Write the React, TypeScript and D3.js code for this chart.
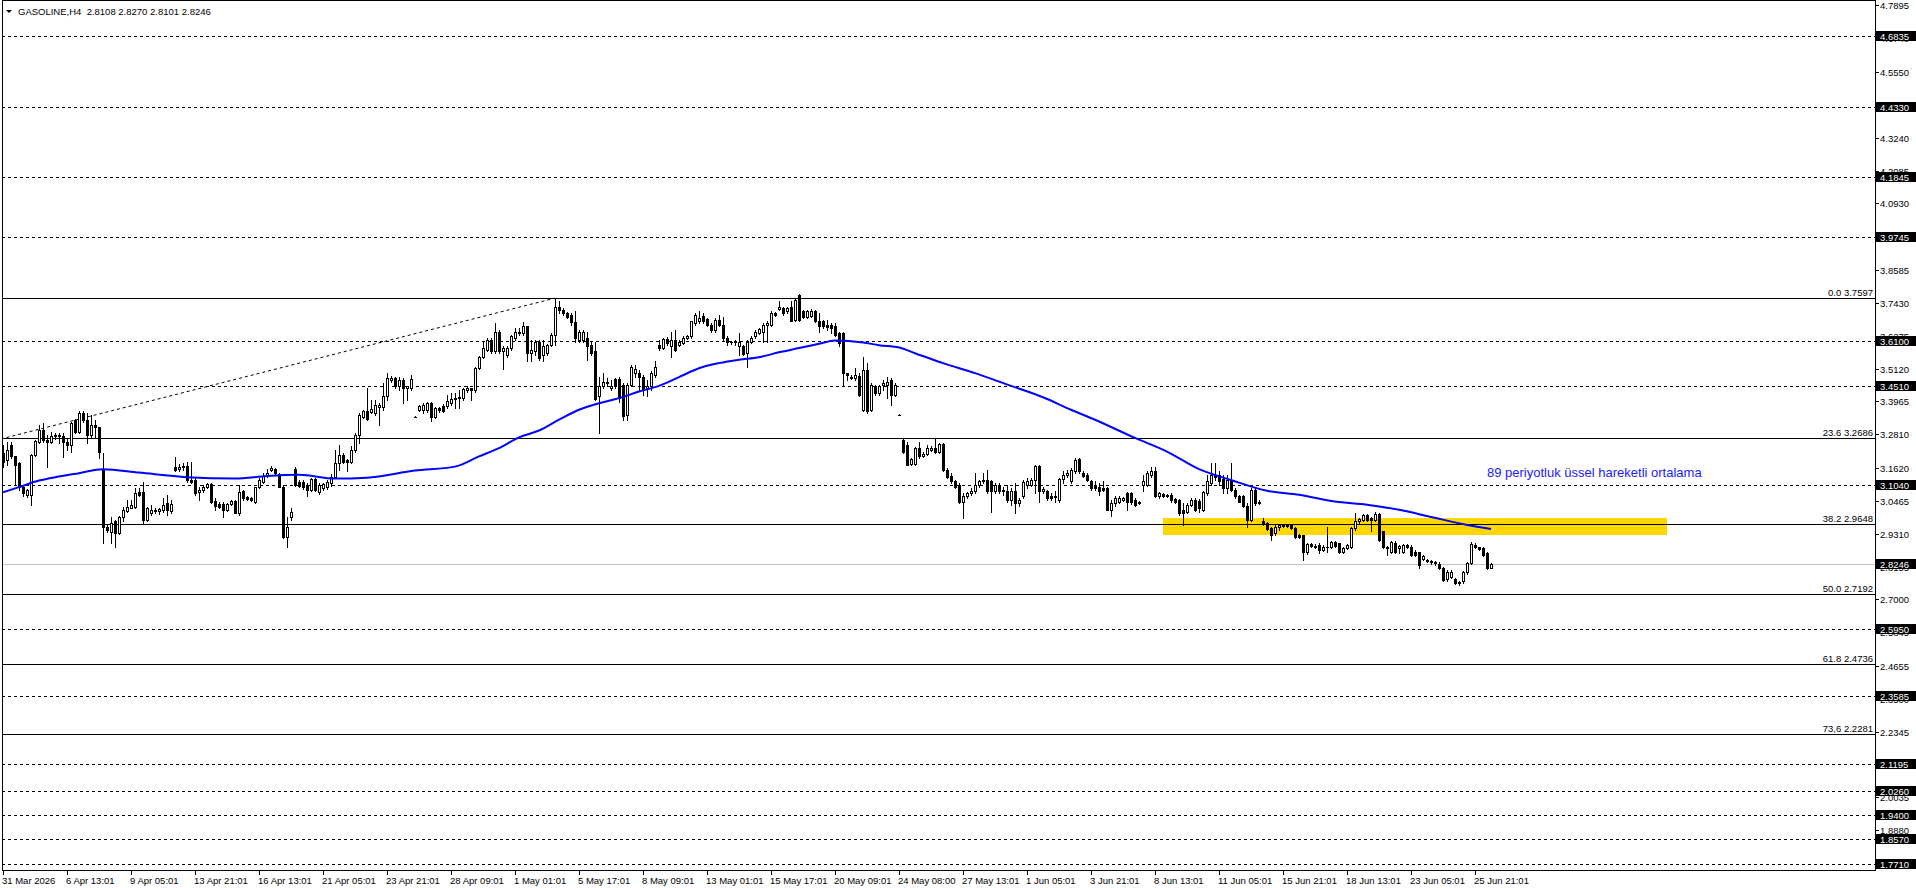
import React from "react";
import * as d3 from "d3";

// ---- data ----
// each bar: [open, high, low, close]
const barsLateMarEarlyApr = [
  [3.214,3.244,3.167,3.185],[3.191,3.255,3.173,3.226],[3.244,3.252,3.197,3.203],[3.203,3.205,3.103,3.173],
  [3.179,3.185,3.085,3.097],[3.097,3.099,3.062,3.073],[3.067,3.09,3.06,3.085],[3.067,3.21,3.032,3.208],
  [3.208,3.261,3.203,3.257],[3.255,3.314,3.249,3.296],[3.296,3.32,3.255,3.262],[3.262,3.278,3.165,3.255],
  [3.255,3.29,3.249,3.273],[3.273,3.285,3.265,3.279],[3.279,3.285,3.249,3.275],[3.275,3.285,3.202,3.255],
  [3.255,3.267,3.226,3.243],[3.243,3.325,3.22,3.32],[3.331,3.335,3.285,3.29],[3.29,3.361,3.284,3.355],
  [3.355,3.361,3.325,3.331],[3.331,3.355,3.249,3.278],[3.278,3.349,3.267,3.314],[3.314,3.331,3.267,3.308],
  [3.305,3.308,3.197,3.22],[3.155,3.214,2.897,2.956],[2.956,2.962,2.938,2.944],[2.938,2.991,2.897,2.968],
  [2.974,2.98,2.886,2.933],[2.933,2.995,2.93,2.991],[2.989,3.026,2.974,3.015],[3.012,3.05,3.009,3.026],
  [3.023,3.05,3.02,3.032],[3.026,3.091,3.02,3.073],[3.079,3.091,3.062,3.067],[3.079,3.114,2.968,2.98],
  [2.98,3.025,2.975,3.021],[3.003,3.032,2.997,3.015],[3.015,3.02,3.005,3.011],[3.012,3.022,3.0,3.017],
  [3.015,3.056,3.009,3.032],[3.038,3.067,2.997,3.015],[3.011,3.05,3.003,3.036],
];
const barsMidApr = [
  [3.165,3.202,3.15,3.155],[3.158,3.175,3.152,3.167],[3.165,3.181,3.155,3.17],[3.17,3.185,3.114,3.12],
  [3.12,3.185,3.108,3.114],[3.12,3.126,3.067,3.073],[3.079,3.097,3.05,3.085],[3.085,3.103,3.079,3.097],
  [3.094,3.109,3.091,3.106],[3.105,3.109,3.04,3.044],[3.046,3.056,3.015,3.029],[3.036,3.044,3.02,3.026],
  [3.036,3.044,2.991,3.015],[3.015,3.04,3.01,3.036],[3.036,3.05,3.032,3.046],[3.046,3.05,3.003,3.005],
  [3.003,3.103,2.997,3.076],[3.082,3.085,3.05,3.056],[3.059,3.062,3.048,3.052],[3.056,3.06,3.045,3.05],
  [3.044,3.097,3.04,3.094],[3.094,3.126,3.091,3.12],[3.114,3.144,3.11,3.134],[3.138,3.158,3.132,3.146],
  [3.155,3.17,3.15,3.161],[3.159,3.161,3.138,3.144],[3.141,3.146,3.094,3.097],[3.097,3.103,2.915,2.921],
  [2.921,2.991,2.886,2.956],[2.989,3.021,2.98,3.009],[3.158,3.165,3.1,3.103],[3.114,3.12,3.094,3.099],
  [3.114,3.12,3.088,3.094],[3.103,3.109,3.062,3.085],[3.085,3.128,3.08,3.122],[3.122,3.128,3.08,3.085],
  [3.076,3.108,3.07,3.103],
];
const barsLateApr = [
  [3.091,3.11,3.085,3.106],[3.097,3.12,3.09,3.114],[3.108,3.14,3.1,3.132],[3.132,3.226,3.126,3.179],
  [3.179,3.244,3.156,3.208],[3.208,3.215,3.18,3.185],[3.191,3.195,3.15,3.185],[3.185,3.238,3.179,3.226],
  [3.226,3.285,3.22,3.279],[3.279,3.355,3.249,3.349],[3.343,3.367,3.337,3.361],[3.364,3.443,3.33,3.334],
  [3.36,3.403,3.355,3.37],[3.355,3.402,3.35,3.384],[3.378,3.39,3.314,3.384],[3.378,3.462,3.367,3.414],
  [3.414,3.496,3.402,3.478],[3.47,3.485,3.465,3.478],[3.478,3.484,3.443,3.449],[3.451,3.484,3.437,3.472],
  [3.472,3.478,3.39,3.443],[3.443,3.452,3.402,3.449],[3.443,3.49,3.437,3.475],[3.343,3.345,3.341,3.343],
  [3.367,3.384,3.363,3.38],[3.367,3.39,3.355,3.384],[3.367,3.396,3.36,3.392],[3.39,3.396,3.326,3.343],
  [3.343,3.376,3.338,3.372],[3.372,3.376,3.36,3.367],[3.381,3.386,3.358,3.364],[3.38,3.42,3.372,3.397],
  [3.392,3.425,3.384,3.404],[3.404,3.425,3.372,3.408],[3.408,3.437,3.372,3.412],[3.408,3.443,3.402,3.44],
  [3.437,3.451,3.431,3.443],[3.443,3.443,3.402,3.437],[3.437,3.519,3.431,3.513],[3.513,3.557,3.51,3.552],
];
const barsEarlyMay = [
  [3.554,3.607,3.549,3.584],[3.578,3.619,3.572,3.613],[3.613,3.619,3.568,3.572],[3.572,3.672,3.568,3.642],
  [3.642,3.648,3.568,3.572],[3.572,3.59,3.51,3.584],[3.56,3.59,3.554,3.584],[3.584,3.631,3.578,3.625],
  [3.619,3.654,3.613,3.642],[3.642,3.654,3.631,3.637],[3.637,3.674,3.631,3.66],[3.66,3.662,3.537,3.568],
  [3.568,3.613,3.537,3.578],[3.575,3.613,3.56,3.607],[3.607,3.613,3.543,3.549],[3.56,3.613,3.537,3.592],
  [3.566,3.6,3.56,3.595],[3.595,3.637,3.592,3.631],[3.631,3.7597,3.595,3.73],[3.73,3.748,3.707,3.718],
  [3.718,3.724,3.701,3.707],[3.707,3.71,3.69,3.695],[3.701,3.707,3.666,3.674],[3.677,3.713,3.607,3.619],
  [3.613,3.648,3.607,3.642],[3.613,3.648,3.607,3.642],[3.619,3.642,3.543,3.59],[3.595,3.607,3.56,3.568],
  [3.572,3.607,3.402,3.404],[3.414,3.484,3.285,3.451],[3.449,3.496,3.443,3.466],[3.466,3.478,3.449,3.461],
  [3.443,3.472,3.437,3.451],[3.475,3.478,3.443,3.449],[3.475,3.484,3.396,3.408],[3.455,3.461,3.332,3.346],
  [3.349,3.461,3.332,3.455],[3.455,3.525,3.449,3.519],[3.496,3.525,3.484,3.51],[3.496,3.507,3.437,3.482],
  [3.484,3.49,3.42,3.437],[3.443,3.472,3.414,3.451],[3.449,3.502,3.437,3.496],[3.49,3.537,3.484,3.519],
];
const barsMidMay = [
  [3.595,3.613,3.578,3.584],[3.584,3.619,3.58,3.615],[3.615,3.622,3.595,3.601],[3.59,3.642,3.554,3.613],
  [3.613,3.648,3.572,3.578],[3.595,3.613,3.59,3.607],[3.601,3.625,3.597,3.619],[3.619,3.63,3.615,3.625],
  [3.625,3.678,3.619,3.678],[3.672,3.707,3.666,3.701],[3.678,3.713,3.672,3.689],[3.697,3.707,3.672,3.678],
  [3.686,3.69,3.66,3.666],[3.666,3.672,3.642,3.648],[3.648,3.689,3.642,3.683],[3.683,3.701,3.66,3.666],
  [3.666,3.695,3.613,3.619],[3.619,3.625,3.595,3.604],[3.607,3.61,3.6,3.604],[3.604,3.613,3.595,3.607],
  [3.59,3.637,3.56,3.607],[3.592,3.595,3.56,3.564],[3.566,3.613,3.519,3.607],[3.607,3.625,3.601,3.619],
  [3.625,3.648,3.619,3.642],[3.637,3.655,3.633,3.651],[3.642,3.672,3.607,3.666],[3.666,3.678,3.607,3.672],
  [3.666,3.713,3.66,3.707],[3.707,3.71,3.698,3.701],[3.721,3.748,3.718,3.73],[3.724,3.73,3.701,3.707],
  [3.713,3.728,3.708,3.724],[3.73,3.748,3.678,3.681],[3.683,3.76,3.678,3.754],[3.771,3.775,3.678,3.683],
  [3.713,3.718,3.69,3.695],[3.695,3.718,3.689,3.713],[3.697,3.72,3.692,3.716],[3.713,3.718,3.674,3.678],
  [3.678,3.707,3.642,3.66],[3.678,3.683,3.654,3.66],[3.666,3.683,3.648,3.658],[3.666,3.672,3.637,3.654],
  [3.66,3.672,3.625,3.631],[3.637,3.642,3.59,3.601],[3.637,3.642,3.455,3.496],[3.496,3.496,3.472,3.49],
  [3.484,3.488,3.474,3.478],[3.478,3.513,3.472,3.49],[3.486,3.496,3.414,3.42],[3.367,3.554,3.361,3.507],
  [3.507,3.531,3.355,3.361],[3.367,3.461,3.361,3.455],[3.451,3.455,3.42,3.425],[3.425,3.455,3.42,3.451],
  [3.455,3.472,3.437,3.461],[3.455,3.484,3.408,3.466],[3.472,3.478,3.384,3.42],[3.42,3.46,3.415,3.455],
];
const barsLateMayEarlyJun = [
  [3.349,3.351,3.347,3.349],[3.261,3.265,3.214,3.22],[3.244,3.255,3.171,3.173],[3.177,3.197,3.172,3.193],
  [3.177,3.236,3.172,3.232],[3.232,3.255,3.198,3.203],[3.206,3.22,3.2,3.212],[3.212,3.244,3.208,3.232],
  [3.226,3.238,3.222,3.234],[3.232,3.267,3.214,3.22],[3.22,3.25,3.215,3.247],[3.247,3.25,3.15,3.156],
  [3.156,3.162,3.126,3.132],[3.135,3.144,3.109,3.115],[3.115,3.12,3.091,3.097],[3.103,3.109,3.038,3.041],
  [3.041,3.074,2.986,3.062],[3.062,3.078,3.058,3.074],[3.074,3.091,3.068,3.083],[3.083,3.144,3.074,3.103],
  [3.103,3.12,3.097,3.115],[3.115,3.144,3.109,3.121],[3.121,3.156,3.074,3.08],[3.115,3.12,3.009,3.08],
  [3.083,3.109,3.074,3.103],[3.103,3.109,3.074,3.08],[3.085,3.097,3.068,3.08],[3.08,3.103,3.044,3.05],
  [3.05,3.091,3.033,3.083],[3.083,3.109,3.003,3.038],[3.038,3.056,3.027,3.048],[3.062,3.12,3.056,3.112],
  [3.103,3.126,3.091,3.115],[3.103,3.126,3.098,3.121],[3.121,3.173,3.074,3.168],[3.168,3.173,3.044,3.08],
  [3.08,3.097,3.074,3.088],[3.083,3.085,3.05,3.056],[3.064,3.074,3.05,3.056],[3.064,3.08,3.044,3.06],
  [3.05,3.126,3.044,3.123],[3.123,3.15,3.109,3.138],[3.138,3.156,3.132,3.146],[3.115,3.162,3.109,3.156],
  [3.15,3.197,3.144,3.191],[3.193,3.197,3.144,3.15],[3.146,3.15,3.13,3.135],[3.138,3.144,3.115,3.121],
  [3.115,3.121,3.085,3.091],[3.099,3.115,3.085,3.091],[3.095,3.109,3.068,3.083],
];
const barsJun = [
  [3.091,3.115,3.08,3.085],[3.091,3.097,3.013,3.015],[3.015,3.05,2.993,3.038],[3.038,3.062,3.03,3.056],
  [3.044,3.065,3.04,3.056],[3.05,3.06,3.045,3.056],[3.074,3.076,3.015,3.044],[3.074,3.076,3.035,3.041],
  [3.05,3.056,3.027,3.033],[3.044,3.046,3.036,3.038],[3.103,3.138,3.08,3.115],[3.103,3.15,3.098,3.144],
  [3.138,3.167,3.132,3.15],[3.15,3.167,3.06,3.062],[3.062,3.078,3.058,3.074],[3.07,3.074,3.06,3.065],
  [3.065,3.072,3.06,3.068],[3.068,3.074,3.044,3.05],[3.052,3.056,3.038,3.044],[3.05,3.052,2.997,3.003],
  [3.015,3.038,2.962,3.003],[3.009,3.038,3.003,3.033],[3.033,3.056,3.027,3.05],[3.05,3.056,3.01,3.015],
  [3.045,3.053,3.009,3.02],[3.015,3.08,3.01,3.076],[3.074,3.138,3.068,3.115],[3.109,3.179,3.103,3.138],
  [3.138,3.179,3.12,3.132],[3.138,3.15,3.103,3.115],[3.123,3.138,3.074,3.091],[3.091,3.138,3.074,3.12],
  [3.12,3.181,3.08,3.085],[3.085,3.091,3.056,3.062],[3.062,3.068,3.041,3.044],[3.062,3.068,3.024,3.029],
  [3.029,3.038,2.956,2.98],[2.98,3.091,2.977,3.085],[3.085,3.091,3.033,3.038],[3.044,3.048,3.034,3.038],
  [2.974,2.986,2.962,2.968],[2.968,2.972,2.944,2.947],[2.95,2.956,2.909,2.927],[2.933,2.96,2.928,2.956],
  [2.956,2.966,2.945,2.96],[2.958,2.966,2.954,2.962],[2.962,2.966,2.954,2.958],[2.96,2.963,2.948,2.952],
  [2.952,2.955,2.917,2.921],[2.927,2.93,2.916,2.921],[2.927,2.927,2.839,2.865],[2.865,2.9,2.86,2.895],
  [2.895,2.9,2.885,2.889],[2.889,2.894,2.881,2.886],[2.892,2.898,2.863,2.874],[2.874,2.89,2.87,2.886],
  [2.886,2.956,2.868,2.883],[2.886,2.907,2.881,2.903],[2.903,2.907,2.884,2.888],[2.898,2.9,2.864,2.868],
  [2.868,2.886,2.862,2.882],[2.88,2.896,2.876,2.892],[2.886,2.954,2.882,2.95],[2.95,3.005,2.945,2.974],
  [2.974,2.986,2.97,2.982],[2.98,3.001,2.974,2.997],[2.997,3.001,2.974,2.98],[2.986,2.991,2.939,2.98],
  [2.98,3.009,2.974,3.001],[3.001,3.004,2.906,2.909],[2.939,2.942,2.882,2.886],[2.886,2.889,2.857,2.88],
  [2.868,2.907,2.864,2.903],[2.9,2.904,2.864,2.868],[2.88,2.892,2.863,2.889],[2.868,2.896,2.864,2.892],
  [2.892,2.896,2.882,2.886],[2.886,2.89,2.853,2.857],[2.868,2.872,2.853,2.857],[2.865,2.868,2.81,2.822],
  [2.842,2.857,2.838,2.853],[2.838,2.842,2.83,2.835],[2.834,2.838,2.826,2.831],[2.831,2.834,2.822,2.828],
  [2.825,2.83,2.806,2.81],[2.81,2.813,2.764,2.769],[2.771,2.802,2.765,2.798],[2.78,2.802,2.776,2.798],
  [2.771,2.774,2.754,2.759],[2.762,2.766,2.75,2.757],[2.763,2.799,2.758,2.795],[2.795,2.831,2.79,2.827],
  [2.827,2.903,2.825,2.895],[2.892,2.9,2.88,2.884],[2.884,2.886,2.873,2.877],[2.88,2.883,2.853,2.857],
  [2.863,2.866,2.806,2.8108],[2.8108,2.827,2.8101,2.8246],
];

const candles = [
  ...barsLateMarEarlyApr, ...barsMidApr, ...barsLateApr, ...barsEarlyMay,
  ...barsMidMay, ...barsLateMayEarlyJun, ...barsJun,
];

// 89 EMA, sampled off the chart: bar index / value
const emaBars = [0, 4, 9, 14, 19, 25, 34, 46, 58, 66, 74, 83, 91, 103, 113, 119, 124, 129, 134, 139, 144, 149, 154, 159, 164, 169, 174, 179, 184, 189, 194, 199, 204, 208, 215, 219, 224, 228, 235, 243, 252, 260, 267, 273, 283, 291, 299, 307, 316, 324, 333, 341, 349, 357, 366, 372];
const emaValues = [3.077, 3.095, 3.118, 3.132, 3.144, 3.158, 3.146, 3.13, 3.125, 3.134, 3.138, 3.125, 3.128, 3.153, 3.167, 3.203, 3.232, 3.27, 3.294, 3.332, 3.367, 3.39, 3.408, 3.431, 3.451, 3.482, 3.513, 3.531, 3.543, 3.552, 3.569, 3.584, 3.599, 3.611, 3.604, 3.594, 3.586, 3.566, 3.531, 3.496, 3.451, 3.411, 3.367, 3.332, 3.268, 3.22, 3.158, 3.12, 3.082, 3.068, 3.044, 3.033, 3.015, 2.99, 2.962, 2.948];

const timeLabels = [
  "31 Mar 2026", "6 Apr 13:01", "9 Apr 05:01", "13 Apr 21:01", "16 Apr 13:01", "21 Apr 05:01",
  "23 Apr 21:01", "28 Apr 09:01", "1 May 01:01", "5 May 17:01", "8 May 09:01", "13 May 01:01",
  "15 May 17:01", "20 May 09:01", "24 May 08:00", "27 May 13:01", "1 Jun 05:01", "3 Jun 21:01",
  "8 Jun 13:01", "11 Jun 05:01", "15 Jun 21:01", "18 Jun 13:01", "23 Jun 05:01", "25 Jun 21:01",
];
const barsPerLabel = 16;

const priceTicks = [4.7895, 4.674, 4.555, 4.4395, 4.324, 4.2085, 4.093, 3.9775, 3.8585, 3.743, 3.6275, 3.512, 3.3965, 3.281, 3.162, 3.0465, 2.931, 2.8155, 2.7, 2.5845, 2.4655, 2.35, 2.2345, 2.119, 2.0035, 1.888];
const dashedLevels = [4.6835, 4.433, 4.1845, 3.9745, 3.61, 3.451, 3.104, 2.595, 2.3585, 2.1195, 2.026, 1.94, 1.857, 1.771];
const lastClose = 2.8246;

const fibRatios = [0, 23.6, 38.2, 50, 61.8, 73.6];
const fibNames = ["0.0", "23.6", "38.2", "50.0", "61.8", "73,6"];
const fibHigh = { bar: 138, price: 3.7597 };
const fibLow = { bar: -444, price: 1.6787 };

const zoneBars = [290, 416];
const zonePrices = [2.927, 2.988];

const symbol = "GASOLINE,H4";
const titleOhlc = [2.8108, 2.827, 2.8101, 2.8246];
const maNote = "89 periyotluk üssel hareketli ortalama";

const W = 1916;
const H = 888;
const FONT = "'Liberation Sans', Arial, sans-serif";

export default function App() {
  const left = 2, right = 1875, bottom = 870;
  const x = d3.scaleLinear().domain([0, 1]).range([3, 7]); // 4px per bar
  const y = d3.scaleLinear().domain([1.771, 4.6835]).range([863.5, 35.5]);
  const py = (p: number) => Math.round(y(p)) + 0.5;
  const fmt = (v: number) => v.toFixed(4);

  const fibLevels = fibRatios.map((r) => fibHigh.price - (r / 100) * (fibHigh.price - fibLow.price));

  const emaLine = d3
    .line<number>()
    .x((_, i) => x(emaBars[i]))
    .y((d) => y(d))
    .curve(d3.curveMonotoneX);

  const zx0 = Math.round(x(zoneBars[0]));
  const zx1 = Math.round(x(zoneBars[1]));
  const zy0 = Math.round(y(zonePrices[1]));
  const zy1 = Math.round(y(zonePrices[0]));

  return (
    <svg width={W} height={H} style={{ display: "block", position: "absolute", left: 0, top: 0, background: "#fff" }}>
      <style>{`body{margin:0}`}</style>
      <defs>
        <clipPath id="plot">
          <rect x={left + 1} y={1} width={right - left - 1} height={bottom - 1} />
        </clipPath>
      </defs>

      <g clipPath="url(#plot)">
        <rect x={zx0} y={zy0} width={zx1 - zx0} height={zy1 - zy0} fill="#FFD700" />

        {dashedLevels.map((v) => (
          <line key={"d" + v} x1={left} x2={right} y1={py(v)} y2={py(v)} stroke="#000" strokeDasharray="3,3" />
        ))}
        <line x1={left} x2={right} y1={py(lastClose)} y2={py(lastClose)} stroke="#c0c0c0" />
        {fibLevels.map((v) => (
          <line key={"f" + v} x1={left} x2={right} y1={py(v)} y2={py(v)} stroke="#000" />
        ))}
        <line
          x1={x(fibLow.bar)} y1={y(fibLow.price)} x2={x(fibHigh.bar)} y2={y(fibHigh.price)}
          stroke="#000" strokeDasharray="3,3"
        />

        {candles.map((c, i) => {
          const [o, h, l, cl] = c;
          const cx = Math.round(x(i));
          const yh = Math.round(y(h));
          const yl = Math.round(y(l));
          const top = Math.round(y(Math.max(o, cl)));
          const bot = Math.round(y(Math.min(o, cl)));
          const bull = cl > o;
          return (
            <g key={i}>
              <rect x={cx} y={yh} width={1} height={Math.max(1, yl - yh + 1)} fill="#000" />
              {top === bot ? (
                <rect x={cx - 1} y={top} width={3} height={1} fill="#000" />
              ) : bull ? (
                <rect x={cx - 0.5} y={top + 0.5} width={2} height={bot - top} fill="#fff" stroke="#000" />
              ) : (
                <rect x={cx - 1} y={top} width={3} height={bot - top + 1} fill="#000" />
              )}
            </g>
          );
        })}

        <path d={emaLine(emaValues) || ""} fill="none" stroke="#0000ff" strokeWidth={2} />
      </g>

      {/* fib labels */}
      {fibLevels.map((v, i) => (
        <text key={"fl" + i} x={1873} y={py(v) - 2.5} textAnchor="end" fontFamily={FONT} fontSize={9.5} fill="#000">
          {fibNames[i]} {fmt(v)}
        </text>
      ))}

      <text x={1487} y={477} fontFamily={FONT} fontSize={13} fill="#2020ff">{maNote}</text>

      {/* frame */}
      <line x1={left + 0.5} x2={left + 0.5} y1={0} y2={bottom + 1} stroke="#000" />
      <line x1={right + 0.5} x2={right + 0.5} y1={0} y2={bottom + 1} stroke="#000" />
      <line x1={left} x2={right + 1} y1={bottom + 0.5} y2={bottom + 0.5} stroke="#000" />
      <line x1={left} x2={right + 1} y1={0.5} y2={0.5} stroke="#000" />

      {/* price axis */}
      {priceTicks.map((t) => (
        <g key={"t" + t}>
          <line x1={right + 1} x2={right + 4} y1={py(t)} y2={py(t)} stroke="#000" />
          <text x={1880} y={py(t) + 3.5} fontFamily={FONT} fontSize={9.5} fill="#000">{fmt(t)}</text>
        </g>
      ))}
      {[...dashedLevels, lastClose].map((v) => (
        <g key={"b" + v}>
          <rect x={right + 1} y={py(v) - 5.5} width={W - right - 1} height={10} fill="#000" />
          <text x={1880} y={py(v) + 3.5} fontFamily={FONT} fontSize={9.5} fill="#fff">{fmt(v)}</text>
        </g>
      ))}

      {/* time axis */}
      {timeLabels.map((s, k) => {
        const tx = Math.round(x(k * barsPerLabel));
        return (
          <g key={"x" + k}>
            <line x1={tx + 0.5} x2={tx + 0.5} y1={bottom + 1} y2={bottom + 5} stroke="#000" />
            <text x={Math.max(2, tx - 1)} y={884} fontFamily={FONT} fontSize={9.5} fill="#000">{s}</text>
          </g>
        );
      })}

      {/* title */}
      <path d="M6,10 L12,10 L9,13 Z" fill="#000" />
      <text x={18} y={15} fontFamily={FONT} fontSize={9.5} fill="#000" style={{ whiteSpace: "pre" }}>
        {symbol + "  " + titleOhlc.map(fmt).join(" ")}
      </text>
    </svg>
  );
}
